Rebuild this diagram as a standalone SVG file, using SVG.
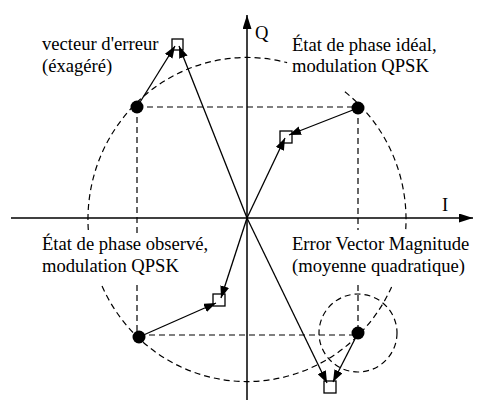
<svg xmlns="http://www.w3.org/2000/svg" width="477" height="400" viewBox="0 0 477 400">
<style>
.dash{fill:none;stroke:#000;stroke-width:1.2;stroke-dasharray:6 4}
.axis{stroke:#000;stroke-width:1.5;fill:none}
.vec{stroke:#000;stroke-width:1.3;fill:none;marker-end:url(#ah)}
.pt{fill:#000}
.sq{fill:#fff;stroke:#000;stroke-width:1.3}
text{font-family:"Liberation Serif","Times New Roman",serif;font-size:18.6px;fill:#000}
</style>
<defs>
<marker id="ah" markerUnits="userSpaceOnUse" markerWidth="12" markerHeight="9" refX="12" refY="4.5" orient="auto"><path d="M0,0 L12,4.5 L0,9 z" fill="#000"/></marker>
<marker id="axh" markerUnits="userSpaceOnUse" markerWidth="14" markerHeight="9" refX="14" refY="4.5" orient="auto"><path d="M0,0 L14,4.5 L0,9 z" fill="#000"/></marker>
</defs>
<rect width="477" height="400" fill="#fff"/>
<g id="guides">
<path class="dash" d="M344.9,91.8 A159,162 0 0 1 405.7,229.95"/>
<path class="dash" d="M391.6,286.9 A159,162 0 0 1 101.5,284.9"/>
<path class="dash" d="M88.3,229.95 A159,162 0 0 1 287.1,62.7"/>
<circle class="dash" cx="358" cy="333" r="39"/>
<path class="dash" d="M137,107 H358 M137,107 V233 M358,108 V230 M137,285 V337 M139,335 H358 M358,285 V334"/>
</g>
<g id="axes">
<line class="axis" x1="247" y1="400" x2="247" y2="15" marker-end="url(#axh)"/>
<line class="axis" x1="11" y1="218" x2="473" y2="218" marker-end="url(#axh)"/>
</g>
<g id="squares">
<rect class="sq" x="172" y="39" width="11" height="11"/>
<rect class="sq" x="280" y="131" width="12" height="12"/>
<rect class="sq" x="213" y="294" width="12" height="12"/>
<rect class="sq" x="324" y="381" width="12" height="12"/>
</g>
<g id="connectors">
<line class="vec" x1="137" y1="107" x2="175" y2="46"/>
<line class="vec" x1="247" y1="218" x2="179" y2="46"/>
<line class="vec" x1="358" y1="108" x2="289" y2="135"/>
<line class="vec" x1="247" y1="218" x2="285" y2="138"/>
<line class="vec" x1="139" y1="337" x2="216" y2="303"/>
<line class="vec" x1="247" y1="218" x2="221" y2="298"/>
<line class="vec" x1="247" y1="218" x2="327" y2="383"/>
<line class="vec" x1="358" y1="333" x2="333" y2="382"/>
</g>
<g id="points">
<circle class="pt" cx="137" cy="107" r="6.5"/>
<circle class="pt" cx="358" cy="108" r="6.5"/>
<circle class="pt" cx="139" cy="337" r="6.5"/>
<circle class="pt" cx="358" cy="333" r="6.5"/>
</g>
<g id="labels" font-family="'Liberation Serif', 'Times New Roman', serif">
<text x="255" y="39">Q</text>
<text x="442" y="211">I</text>
<text x="42" y="50">vecteur d'erreur</text>
<text x="42" y="72">(éxagéré)</text>
<text x="292" y="51">État de phase idéal,</text>
<text x="292" y="72">modulation QPSK</text>
<text x="42" y="250">État de phase observé,</text>
<text x="42" y="272">modulation QPSK</text>
<text x="292" y="250">Error Vector Magnitude</text>
<text x="292" y="272">(moyenne quadratique)</text>
</g>
</svg>
